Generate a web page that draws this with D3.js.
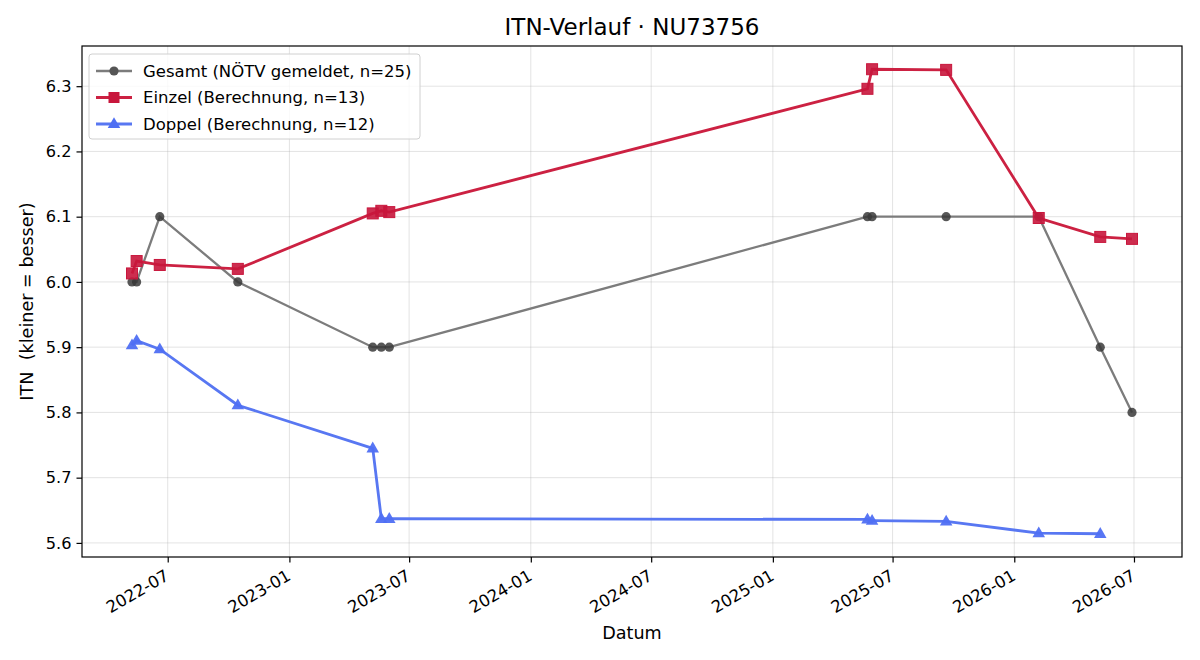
<!DOCTYPE html>
<html>
<head>
<meta charset="utf-8">
<script src="https://cdn.jsdelivr.net/npm/d3@7"></script>
<style>
  body { margin: 0; background: #fff; }
  svg text { font-family: "DejaVu Sans", sans-serif; white-space: pre; }
</style>
</head>
<body>
<div id="chart"></div>
<script>
// values
const gesamtDates = ["2022-05-08", "2022-05-15", "2022-06-19", "2022-10-15", "2023-05-07", "2023-05-20", "2023-06-01",
                     "2025-05-24", "2025-05-31", "2025-09-20", "2026-02-07", "2026-05-11", "2026-06-28"];
const gesamtValues = [6.0, 6.0, 6.1, 6.0, 5.9, 5.9, 5.9, 6.1, 6.1, 6.1, 6.1, 5.9, 5.8];

const einzelDates = ["2022-05-08", "2022-05-15", "2022-06-19", "2022-10-15", "2023-05-07", "2023-05-20", "2023-06-01",
                     "2025-05-24", "2025-05-31", "2025-09-20", "2026-02-07", "2026-05-11", "2026-06-28"];
const einzelValues = [6.013, 6.032, 6.026, 6.020, 6.105, 6.109, 6.107, 6.296, 6.326, 6.325, 6.098, 6.069, 6.066];

const doppelDates = ["2022-05-08", "2022-05-15", "2022-06-19", "2022-10-15", "2023-05-07", "2023-05-20", "2023-06-01",
                     "2025-05-24", "2025-05-31", "2025-09-20", "2026-02-07", "2026-05-11"];
const doppelValues = [5.903, 5.910, 5.897, 5.811, 5.745, 5.637, 5.637, 5.636, 5.634, 5.633, 5.615, 5.614];

const yTicks = [5.6, 5.7, 5.8, 5.9, 6.0, 6.1, 6.2, 6.3];
const xTickLabels = ["2022-07", "2023-01", "2023-07", "2024-01", "2024-07", "2025-01", "2025-07", "2026-01", "2026-07"];

const title = "ITN-Verlauf · NU73756";
const xLabel = "Datum";
const yLabel = "ITN  (kleiner = besser)";
const legendLabels = ["Gesamt (NÖTV gemeldet, n=25)", "Einzel (Berechnung, n=13)", "Doppel (Berechnung, n=12)"];

const width = 1200;
const height = 660;
const margin = { top: 46, right: 18, bottom: 103, left: 82 };
const innerW = width - margin.left - margin.right;
const innerH = height - margin.top - margin.bottom;

const fs = 16.2;

const parse = d3.timeParse("%Y-%m-%d");
const parseMonth = d3.timeParse("%Y-%m");

const makeSeries = (dates, values) => dates.map((d, i) => ({ t: parse(d), v: values[i] }));

const gesamt = makeSeries(gesamtDates, gesamtValues);
const einzel = makeSeries(einzelDates, einzelValues);
const doppel = makeSeries(doppelDates, doppelValues);
const all = gesamt.concat(einzel, doppel);

// 5% padding like matplotlib
const tExt = d3.extent(all, d => +d.t);
const tPad = (tExt[1] - tExt[0]) * 0.05;
const vExt = d3.extent(all, d => d.v);
const vPad = (vExt[1] - vExt[0]) * 0.05;

const x = d3.scaleTime()
    .domain([new Date(tExt[0] - tPad), new Date(tExt[1] + tPad)])
    .range([0, innerW]);

const y = d3.scaleLinear()
    .domain([vExt[0] - vPad, vExt[1] + vPad])
    .range([innerH, 0]);

const svg = d3.select("#chart")
    .append("svg")
    .attr("width", width)
    .attr("height", height);

const g = svg.append("g")
    .attr("transform", "translate(" + margin.left + "," + margin.top + ")");

const xTicks = xTickLabels.map(parseMonth);

// grid
g.append("g")
    .selectAll("line")
    .data(xTicks)
    .join("line")
    .attr("x1", d => x(d)).attr("x2", d => x(d))
    .attr("y1", 0).attr("y2", innerH)
    .attr("stroke", "#b0b0b0").attr("stroke-opacity", 0.35).attr("stroke-width", 1);

g.append("g")
    .selectAll("line")
    .data(yTicks)
    .join("line")
    .attr("x1", 0).attr("x2", innerW)
    .attr("y1", d => y(d)).attr("y2", d => y(d))
    .attr("stroke", "#b0b0b0").attr("stroke-opacity", 0.35).attr("stroke-width", 1);

// axes
const xAxis = g.append("g")
    .attr("transform", "translate(0," + innerH + ")")
    .call(d3.axisBottom(x).tickValues(xTicks).tickFormat(d3.timeFormat("%Y-%m")).tickSize(5.5).tickSizeOuter(0));

xAxis.select(".domain").remove();
xAxis.selectAll(".tick line").attr("stroke", "#000").attr("stroke-width", 1.2);
xAxis.selectAll(".tick text")
    .attr("font-size", fs + 0.3)
    .attr("fill", "#000")
    .attr("text-anchor", "end")
    .attr("dy", null)
    .attr("y", null)
    .attr("transform", "translate(2,22) rotate(-30)");

const yAxis = g.append("g")
    .call(d3.axisLeft(y).tickValues(yTicks).tickFormat(d3.format(".1f")).tickSize(5.5).tickPadding(5));

yAxis.select(".domain").remove();
yAxis.selectAll(".tick line").attr("stroke", "#000").attr("stroke-width", 1.2);
yAxis.selectAll(".tick text").attr("font-size", fs).attr("fill", "#000");

// lines
const line = d3.line()
    .x(d => x(d.t))
    .y(d => y(d.v));

g.append("path")
    .datum(gesamt)
    .attr("fill", "none")
    .attr("stroke", "#7c7c7c")
    .attr("stroke-width", 2.3)
    .attr("d", line);

g.append("path")
    .datum(einzel)
    .attr("fill", "none")
    .attr("stroke", "#cc2142")
    .attr("stroke-width", 2.8)
    .attr("d", line);

g.append("path")
    .datum(doppel)
    .attr("fill", "none")
    .attr("stroke", "#5877f2")
    .attr("stroke-width", 2.8)
    .attr("d", line);

// markers
g.append("g")
    .selectAll("circle")
    .data(gesamt)
    .join("circle")
    .attr("cx", d => x(d.t))
    .attr("cy", d => y(d.v))
    .attr("r", 4.6)
    .attr("fill", "#3a3a3a")
    .attr("fill-opacity", 0.85);

const sq = 11;
g.append("g")
    .selectAll("rect")
    .data(einzel)
    .join("rect")
    .attr("x", d => x(d.t) - sq / 2)
    .attr("y", d => y(d.v) - sq / 2)
    .attr("width", sq)
    .attr("height", sq)
    .attr("fill", "#c8163c")
    .attr("fill-opacity", 0.9)
    .attr("stroke", "#c8163c")
    .attr("stroke-width", 1);

const tri = d3.symbol().type(d3.symbolTriangle).size(68);
g.append("g")
    .selectAll("path")
    .data(doppel)
    .join("path")
    .attr("transform", d => "translate(" + x(d.t) + "," + (y(d.v) + 0.5) + ")")
    .attr("d", tri)
    .attr("fill", "#4f6ff3")
    .attr("fill-opacity", 0.95);

// frame
g.append("rect")
    .attr("width", innerW)
    .attr("height", innerH)
    .attr("fill", "none")
    .attr("stroke", "#000")
    .attr("stroke-width", 1.2);

// legend
const legend = g.append("g").attr("transform", "translate(7,8)");
legend.append("rect")
    .attr("width", 331)
    .attr("height", 85)
    .attr("rx", 3)
    .attr("fill", "#fff")
    .attr("fill-opacity", 0.8)
    .attr("stroke", "#d0d0d0");

const legendStyles = [
    { color: "#7c7c7c", mark: "#555", shape: "circle", w: 2.3 },
    { color: "#cc2142", mark: "#c8163c", shape: "square", w: 2.8 },
    { color: "#5877f2", mark: "#4f6ff3", shape: "triangle", w: 2.8 }
];

legendLabels.forEach((label, i) => {
    const row = legend.append("g").attr("transform", "translate(0," + (17 + i * 26.5) + ")");
    const st = legendStyles[i];
    row.append("line")
        .attr("x1", 7).attr("x2", 43)
        .attr("stroke", st.color).attr("stroke-width", st.w);
    if (st.shape === "circle") {
        row.append("circle").attr("cx", 25).attr("r", 4.6).attr("fill", st.mark);
    } else if (st.shape === "square") {
        row.append("rect").attr("x", 19.5).attr("y", -5.5).attr("width", 11).attr("height", 11).attr("fill", st.mark);
    } else {
        row.append("path").attr("transform", "translate(25,0.5)").attr("d", tri).attr("fill", st.mark);
    }
    row.append("text")
        .attr("x", 54)
        .attr("dy", "0.35em")
        .attr("font-size", 16.5)
        .text(label);
});

// titles
svg.append("text")
    .attr("x", margin.left + innerW / 2)
    .attr("y", 35)
    .attr("text-anchor", "middle")
    .attr("font-size", 23)
    .text(title);

svg.append("text")
    .attr("x", margin.left + innerW / 2)
    .attr("y", 639)
    .attr("text-anchor", "middle")
    .attr("font-size", 17.6)
    .text(xLabel);

svg.append("text")
    .attr("transform", "translate(33," + (margin.top + innerH / 2) + ") rotate(-90)")
    .attr("text-anchor", "middle")
    .attr("font-size", 17.6)
    .text(yLabel);
</script>
</body>
</html>
